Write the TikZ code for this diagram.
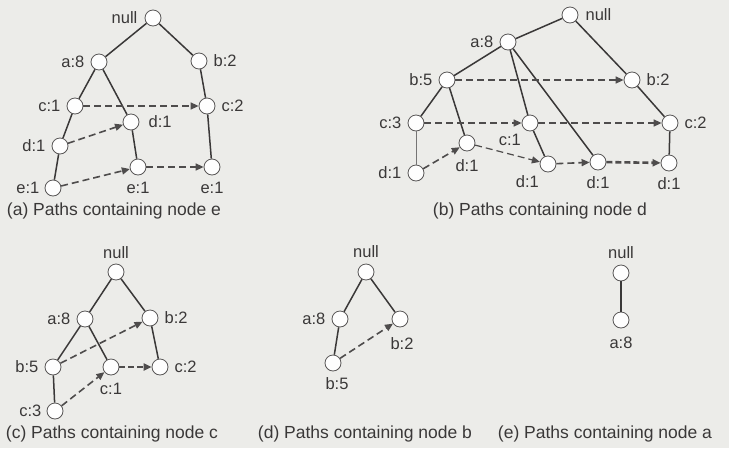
\documentclass[tikz,border=0pt]{standalone}
\usepackage{fontspec}
\setmainfont{Liberation Sans}
\usetikzlibrary{arrows.meta,positioning}
\definecolor{paper}{RGB}{236,236,233}
\definecolor{ink}{RGB}{58,56,56}
\tikzset{
  item/.style={circle, draw=ink!85, fill=white!96!paper, line width=0.8pt,
    minimum size=16pt, inner sep=0pt},
  tag/.style={font=\fontsize{16.5}{17}\selectfont, text=ink, inner sep=0pt},
  branch/.style={draw=ink, line width=1.5pt},
  link/.style={draw=ink!90, line width=1.6pt, dash pattern=on 7pt off 4pt,
    -{Triangle[length=8pt,width=7pt]}},
  boldlink/.style={link, line width=2.6pt, dash pattern=on 6pt off 3pt},
  caption/.style={font=\fontsize{17.5}{18}\selectfont, text=ink}
}
\begin{document}
\begin{tikzpicture}[x=1pt,y=1pt]
  \fill[paper] (0,0) rectangle (729,-448);
  \useasboundingbox (0,0) rectangle (729,-448);

  % (a) node e
  \node[item] (aNull) at (153,-18) {};
  \node[item] (aA8) at (99,-62) {};
  \node[item] (aB2) at (199,-61) {};
  \node[item] (aC1) at (75,-106) {};
  \node[item] (aC2) at (207,-106) {};
  \node[item] (aD1r) at (131,-122) {};
  \node[item] (aD1l) at (60,-146) {};
  \node[item] (aE1l) at (53,-188) {};
  \node[item] (aE1m) at (138,-167) {};
  \node[item] (aE1r) at (212,-167) {};
  \node[tag, left=7pt of aNull] (aNullT) {null};
  \node[tag, left=6pt of aA8] (aA8T) {a:8};
  \node[tag, right=6pt of aB2] (aB2T) {b:2};
  \node[tag, left=6pt of aC1] (aC1T) {c:1};
  \node[tag, right=6pt of aC2] (aC2T) {c:2};
  \node[tag, right=9pt of aD1r] (aD1rT) {d:1};
  \node[tag, left=6pt of aD1l] (aD1lT) {d:1};
  \node[tag, left=5pt of aE1l] (aE1lT) {e:1};
  \node[tag, below=7pt of aE1m] (aE1mT) {e:1};
  \node[tag, below=7pt of aE1r] (aE1rT) {e:1};
  \draw[branch] (aNull) -- (aA8) (aNull) -- (aB2) (aA8) -- (aC1) (aA8) -- (aD1r)
    (aC1) -- (aD1l) (aD1l) -- (aE1l) (aD1r) -- (aE1m) (aB2) -- (aC2) (aC2) -- (aE1r);
  \draw[link] (aC1) -- (aC2);
  \draw[link] (aD1l) -- (aD1r);
  \draw[link] (aE1l) -- (aE1m);
  \draw[link] (aE1m) -- (aE1r);
  \node[caption] (capA) at (114,-211) {(a) Paths containing node e};

  % (b) node d
  \node[item] (bNull) at (570,-15) {};
  \node[item] (bA8) at (508,-42) {};
  \node[item] (bB5) at (447,-80) {};
  \node[item] (bB2) at (632,-80) {};
  \node[item] (bC3) at (416,-123) {};
  \node[item] (bC1) at (530,-123) {};
  \node[item] (bC2) at (670,-123) {};
  \node[item] (bD1a) at (467,-143) {};
  \node[item] (bD1l) at (416,-173) {};
  \node[item] (bD1b) at (548,-164) {};
  \node[item] (bD1c) at (598,-162) {};
  \node[item] (bD1r) at (669,-163) {};
  \node[tag, right=7pt of bNull] (bNullT) {null};
  \node[tag, left=6pt of bA8] (bA8T) {a:8};
  \node[tag, left=6pt of bB5] (bB5T) {b:5};
  \node[tag, right=6pt of bB2] (bB2T) {b:2};
  \node[tag, left=6pt of bC3] (bC3T) {c:3};
  \node[tag, below left=5pt and 3pt of bC1] (bC1T) {c:1};
  \node[tag, right=6pt of bC2] (bC2T) {c:2};
  \node[tag, below=8pt of bD1a] (bD1aT) {d:1};
  \node[tag, left=6pt of bD1l] (bD1lT) {d:1};
  \node[tag, below left=5pt and 3pt of bD1b] (bD1bT) {d:1};
  \node[tag, below=6pt of bD1c] (bD1cT) {d:1};
  \node[tag, below=6pt of bD1r] (bD1rT) {d:1};
  \draw[branch] (bNull) -- (bA8) (bNull) -- (bB2) (bA8) -- (bB5) (bA8) -- (bC1)
    (bA8) -- (bD1c) (bB5) -- (bC3) (bB5) -- (bD1a) (bC1) -- (bD1b)
    (bB2) -- (bC2) (bC2) -- (bD1r);
  \draw[branch, draw=ink!70, line width=1pt] (bC3) -- (bD1l);
  \draw[link] (bB5) -- (bB2);
  \draw[link] (bC3) -- (bC1);
  \draw[link] (bC1) -- (bC2);
  \draw[link] (bD1l) -- (bD1a);
  \draw[link, line width=1.2pt] (bD1a) -- (bD1b);
  \draw[link] (bD1b) -- (bD1c);
  \draw[boldlink] (bD1c) -- (bD1r);
  \node[caption] (capB) at (540,-211) {(b) Paths containing node d};

  % (c) node c
  \node[item] (cNull) at (116,-272) {};
  \node[item] (cA8) at (85,-319) {};
  \node[item] (cB2) at (150,-318) {};
  \node[item] (cB5) at (53,-367) {};
  \node[item] (cC1) at (111,-367) {};
  \node[item] (cC2) at (160,-367) {};
  \node[item] (cC3) at (55,-411) {};
  \node[tag, above=5pt of cNull] (cNullT) {null};
  \node[tag, left=6pt of cA8] (cA8T) {a:8};
  \node[tag, right=6pt of cB2] (cB2T) {b:2};
  \node[tag, left=6pt of cB5] (cB5T) {b:5};
  \node[tag, below=8pt of cC1] (cC1T) {c:1};
  \node[tag, right=6pt of cC2] (cC2T) {c:2};
  \node[tag, left=5pt of cC3] (cC3T) {c:3};
  \draw[branch] (cNull) -- (cA8) (cNull) -- (cB2) (cA8) -- (cB5) (cA8) -- (cC1)
    (cB2) -- (cC2) (cB5) -- (cC3);
  \draw[link] (cB5) -- (cB2);
  \draw[link] (cC3) -- (cC1);
  \draw[boldlink] (cC1) -- (cC2);
  \node[caption] (capC) at (112,-434) {(c) Paths containing node c};

  % (d) node b
  \node[item] (dNull) at (366,-272) {};
  \node[item] (dA8) at (340,-319) {};
  \node[item] (dB2) at (400,-319) {};
  \node[item] (dB5) at (333,-363) {};
  \node[tag, above=6pt of dNull] (dNullT) {null};
  \node[tag, left=6pt of dA8] (dA8T) {a:8};
  \node[tag, below=10pt of dB2, xshift=2pt] (dB2T) {b:2};
  \node[tag, below=6pt of dB5, xshift=4pt] (dB5T) {b:5};
  \draw[branch] (dNull) -- (dA8) (dNull) -- (dB2) (dA8) -- (dB5);
  \draw[link] (dB5) -- (dB2);
  \node[caption] (capD) at (365,-434) {(d) Paths containing node b};

  % (e) node a
  \node[item] (eNull) at (621,-273) {};
  \node[item] (eA8) at (621,-320) {};
  \node[tag, above=6pt of eNull] (eNullT) {null};
  \node[tag, below=8pt of eA8] (eA8T) {a:8};
  \draw[branch] (eNull) -- (eA8);
  \node[caption] (capE) at (605,-434) {(e) Paths containing node a};
\end{tikzpicture}
\end{document}
